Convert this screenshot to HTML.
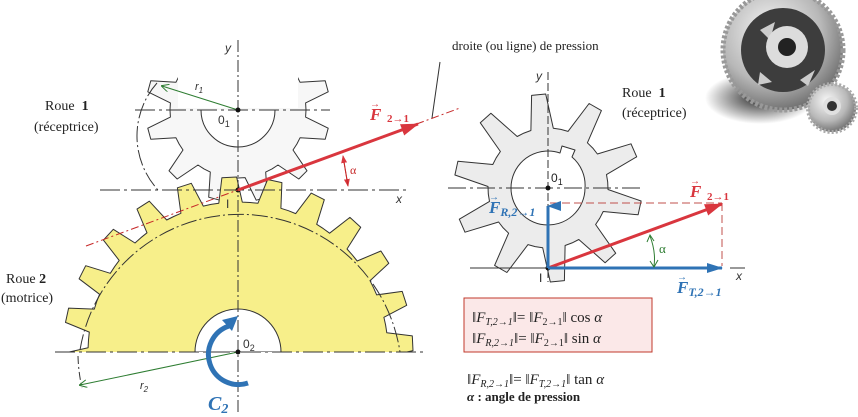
<!DOCTYPE html>
<html><head><meta charset="utf-8"><style>
html,body{margin:0;padding:0;background:#fff;width:858px;height:417px;overflow:hidden}
svg{display:block;overflow:hidden}
.s{font-family:"Liberation Serif",serif}
.a{font-family:"Liberation Sans",sans-serif}
</style></head><body>
<svg id="g" width="858" height="417" viewBox="0 0 858 417" xmlns="http://www.w3.org/2000/svg">
<defs>
<marker id="ar" markerWidth="8" markerHeight="6" refX="7" refY="3" orient="auto" markerUnits="userSpaceOnUse"><path d="M0,0 L8,3 L0,6z" fill="#d9363e"/></marker>
<marker id="ab" markerWidth="16" markerHeight="10" refX="15" refY="5" orient="auto" markerUnits="userSpaceOnUse"><path d="M0,0 L16,5 L0,10z" fill="#2f73b5"/></marker>
<marker id="abu" markerWidth="10" markerHeight="14" refX="5" refY="1" orient="auto" markerUnits="userSpaceOnUse"><path d="M0,14 L5,0 L10,14z" fill="#2f73b5"/></marker>
<marker id="arr" markerWidth="18" markerHeight="12" refX="17" refY="6" orient="auto" markerUnits="userSpaceOnUse"><path d="M0,0 L18,6 L0,12z" fill="#d9363e"/></marker>
<marker id="ag" markerWidth="8" markerHeight="8" refX="7" refY="4" orient="auto" markerUnits="userSpaceOnUse"><path d="M0,0 L8,4 L0,8" fill="none" stroke="#2e7d32"/></marker>
<clipPath id="c1"><rect x="0" y="108" width="440" height="300"/><rect x="0" y="68" width="178" height="45"/><rect x="298" y="68" width="140" height="45"/></clipPath>
<clipPath id="c2"><rect x="0" y="0" width="440" height="352"/></clipPath>
<radialGradient id="mg" cx="0.4" cy="0.35" r="0.7"><stop offset="0" stop-color="#f8f8f8"/><stop offset="0.6" stop-color="#b8b8b8"/><stop offset="1" stop-color="#666"/></radialGradient>
<radialGradient id="sh" cx="0.5" cy="0.5" r="0.5"><stop offset="0" stop-color="#000" stop-opacity="0.85"/><stop offset="1" stop-color="#000" stop-opacity="0"/></radialGradient>
</defs>

<!-- top-right 3D gears -->
<ellipse cx="760" cy="98" rx="55" ry="26" fill="url(#sh)"/>
<circle cx="783" cy="50" r="60" fill="url(#mg)" stroke="#999" stroke-width="5" stroke-dasharray="3 2"/>
<circle cx="783" cy="50" r="42" fill="#3d3d3d"/>
<path d="M760 30 L775 22 L770 40z M800 80 L815 70 L808 86z M760 72 L772 82 L758 85z" fill="#ccc"/>
<circle cx="787" cy="47" r="21" fill="#dcdcdc"/>
<circle cx="787" cy="47" r="9" fill="#222"/>
<circle cx="832" cy="108" r="24" fill="url(#mg)" stroke="#aaa" stroke-width="4" stroke-dasharray="2 2"/>
<circle cx="832" cy="106" r="9" fill="#e0e0e0"/>
<circle cx="832" cy="106" r="5" fill="#333"/>

<g id="gears"></g>

<!-- left axes -->
<g stroke="#333" stroke-width="1" fill="none">
<line x1="238" y1="40" x2="238" y2="412" stroke-dasharray="12 3 2 3"/>
<line x1="135" y1="110" x2="330" y2="110" stroke-dasharray="20 4 3 4"/>
<line x1="100" y1="190" x2="410" y2="190" stroke-dasharray="20 4 3 4"/>
<line x1="55" y1="352" x2="425" y2="352" stroke-dasharray="20 4 3 4"/>
<path d="M157 83 A80 80 0 0 0 158 190" stroke-dasharray="16 3 2 3"/>
<path d="M80 350 A162 162 0 0 1 400 352" stroke-dasharray="16 3 2 3" clip-path="url(#c2)"/>
<path d="M78 356 A162 162 0 0 0 82 388" stroke-dasharray="8 3 2 3"/>
</g>
<line x1="238" y1="110" x2="162" y2="86" stroke="#2e7d32" marker-end="url(#ag)"/>
<line x1="238" y1="352" x2="80" y2="385" stroke="#2e7d32" marker-end="url(#ag)"/>
<circle cx="238" cy="110" r="2.5" fill="#111"/>
<circle cx="238" cy="190" r="2.5" fill="#111"/>
<circle cx="238" cy="352" r="2.5" fill="#111"/>
<text x="225" y="52" class="a" font-size="12" font-style="italic" fill="#333">y</text>
<text x="195" y="90" class="a" font-size="11" font-style="italic" fill="#333">r<tspan font-size="8" dy="3">1</tspan></text>
<text x="218" y="124" class="a" font-size="12" fill="#333">0<tspan font-size="9" dy="3">1</tspan></text>
<text x="396" y="203" class="a" font-size="12" font-style="italic" fill="#333">x</text>
<text x="226" y="208" class="a" font-size="12" fill="#333">I</text>
<text x="243" y="348" class="a" font-size="12" fill="#333">0<tspan font-size="9" dy="3">2</tspan></text>
<text x="140" y="389" class="a" font-size="11" font-style="italic" fill="#333">r<tspan font-size="8" dy="3">2</tspan></text>
<!-- pressure line -->
<line x1="86" y1="246" x2="460" y2="108" stroke="#c62828" stroke-width="1" stroke-dasharray="8 3 2 3"/>
<line x1="440" y1="62" x2="432" y2="118" stroke="#333"/>
<line x1="238" y1="190" x2="418" y2="124" stroke="#d9363e" stroke-width="3" marker-end="url(#arr)"/>
<path d="M343 156 L348 186" stroke="#c62828" stroke-width="1" marker-end="url(#ar)"/>
<path d="M348 186 L343 156" stroke="#c62828" stroke-width="1" marker-end="url(#ar)"/>
<text x="350" y="174" class="s" font-size="12" fill="#c62828">α</text>
<text x="370" y="120" class="s" font-size="17" font-weight="bold" font-style="italic" fill="#d9363e">F</text>
<text x="370" y="107" class="a" font-size="10" fill="#d9363e">→</text>
<text x="387" y="122" class="s" font-size="11" font-weight="bold" fill="#d9363e">2→1</text>
<text x="452" y="50" class="s" font-size="13" fill="#222">droite (ou ligne) de pression</text>
<text x="45" y="110" class="s" font-size="14" fill="#222">Roue&#160; <tspan font-weight="bold">1</tspan></text>
<text x="34" y="131" class="s" font-size="14" fill="#222">(réceptrice)</text>
<text x="6" y="283" class="s" font-size="14" fill="#222">Roue <tspan font-weight="bold">2</tspan></text>
<text x="1" y="302" class="s" font-size="14" fill="#222">(motrice)</text>
<!-- C2 -->
<path d="M248 383 A24 24 0 1 1 229 326" fill="none" stroke="#2f73b5" stroke-width="5"/>
<path d="M222 320 L238 316 L232 331z" fill="#2f73b5"/>
<text x="208" y="410" class="s" font-size="20" font-weight="bold" font-style="italic" fill="#2f73b5">C<tspan font-size="14" dy="3">2</tspan></text>

<!-- right diagram -->
<g stroke="#333" stroke-width="1" fill="none">
<line x1="548" y1="72" x2="548" y2="282" stroke-dasharray="8 3"/>
<line x1="448" y1="188" x2="642" y2="188" stroke-dasharray="18 4 3 4"/>
<line x1="470" y1="268" x2="548" y2="268"/>
<line x1="730" y1="268" x2="745" y2="268"/>
</g>
<circle cx="548" cy="188" r="2.5" fill="#111"/>
<circle cx="548" cy="268" r="2.5" fill="#111"/>
<text x="536" y="80" class="a" font-size="12" font-style="italic" fill="#333">y</text>
<text x="551" y="182" class="a" font-size="12" fill="#222">0<tspan font-size="9" dy="3">1</tspan></text>
<text x="539" y="282" class="a" font-size="12" fill="#222">I</text>
<text x="736" y="280" class="a" font-size="12" font-style="italic" fill="#333">x</text>
<g stroke="#c0504d" stroke-width="1" stroke-dasharray="8 4" fill="none">
<line x1="550" y1="203" x2="722" y2="203"/>
<line x1="722" y1="203" x2="722" y2="266"/>
</g>
<line x1="548" y1="268" x2="722" y2="204" stroke="#d9363e" stroke-width="3" marker-end="url(#arr)"/>
<line x1="548" y1="268" x2="722" y2="268" stroke="#2f73b5" stroke-width="3" marker-end="url(#ab)"/>
<line x1="548" y1="268" x2="548" y2="206" stroke="#2f73b5" stroke-width="3" marker-end="url(#abu)"/>
<path d="M650 236 Q656 252 654 266" fill="none" stroke="#2e7d32" stroke-width="1"/>
<path d="M647 242 L650 235 L654 241 M650 261 L654 267 L658 260" fill="none" stroke="#2e7d32"/>
<text x="659" y="253" class="s" font-size="13" fill="#2e7d32">α</text>
<text x="622" y="97" class="s" font-size="14" fill="#222">Roue&#160; <tspan font-weight="bold">1</tspan></text>
<text x="622" y="117" class="s" font-size="14" fill="#222">(réceptrice)</text>
<text x="690" y="197" class="s" font-size="17" font-weight="bold" font-style="italic" fill="#d9363e">F</text>
<text x="690" y="184" class="a" font-size="10" fill="#d9363e">→</text>
<text x="707" y="200" class="s" font-size="11" font-weight="bold" fill="#d9363e">2→1</text>
<text x="489" y="213" class="s" font-size="17" font-weight="bold" font-style="italic" fill="#2f73b5">F<tspan font-size="12" dy="3">R,2→1</tspan></text>
<text x="489" y="200" class="a" font-size="10" fill="#2f73b5">→</text>
<text x="677" y="293" class="s" font-size="17" font-weight="bold" font-style="italic" fill="#2f73b5">F<tspan font-size="12" dy="3">T,2→1</tspan></text>
<text x="677" y="280" class="a" font-size="10" fill="#2f73b5">→</text>
<rect x="464" y="298" width="188" height="54" fill="#fbe8e8" stroke="#c0392b" stroke-width="1"/>
<g class="s" font-size="15" fill="#222">
<text x="472" y="322">‖<tspan font-style="italic">F</tspan><tspan font-size="10" font-style="italic" dy="3">T,2→1</tspan><tspan dy="-3">‖= ‖</tspan><tspan font-style="italic">F</tspan><tspan font-size="10" dy="3">2→1</tspan><tspan dy="-3">‖ cos</tspan><tspan font-style="italic"> α</tspan></text>
<text x="472" y="343">‖<tspan font-style="italic">F</tspan><tspan font-size="10" font-style="italic" dy="3">R,2→1</tspan><tspan dy="-3">‖= ‖</tspan><tspan font-style="italic">F</tspan><tspan font-size="10" dy="3">2→1</tspan><tspan dy="-3">‖ sin</tspan><tspan font-style="italic"> α</tspan></text>
<text x="467" y="384">‖<tspan font-style="italic">F</tspan><tspan font-size="10" font-style="italic" dy="3">R,2→1</tspan><tspan dy="-3">‖= ‖</tspan><tspan font-style="italic">F</tspan><tspan font-size="10" font-style="italic" dy="3">T,2→1</tspan><tspan dy="-3">‖ tan</tspan><tspan font-style="italic"> α</tspan></text>
<text x="467" y="401" font-size="13" font-weight="bold"><tspan font-style="italic">α</tspan> : angle de pression</text>
</g>
</svg>
<script>
function gear(cx,cy,n,ro,rr,off,up,f){
  f=f||[0.28,0.17];
  var p=2*Math.PI/n,d="";
  function pt(r,a){var x=cx+r*Math.sin(a),y=up?cy-r*Math.cos(a):cy+r*Math.cos(a);return x.toFixed(1)+","+y.toFixed(1);}
  for(var i=0;i<n;i++){
    var c=off+i*p;
    var s=[[rr,c-p/2],[rr,c-p*f[0]],[ro,c-p*f[1]],[ro,c+p*f[1]],[rr,c+p*f[0]]];
    s.forEach(function(q,j){d+=(i==0&&j==0?"M":"L")+pt(q[0],q[1]);});
  }
  return d+"Z";
}
var g=document.getElementById("gears"),ns="http://www.w3.org/2000/svg";
function add(d,fill,stroke,clip){var e=document.createElementNS(ns,"path");e.setAttribute("d",d);e.setAttribute("fill",fill);e.setAttribute("stroke",stroke);e.setAttribute("stroke-width","1");e.setAttribute("fill-rule","evenodd");e.setAttribute("stroke-linejoin","round");if(clip)e.setAttribute("clip-path",clip);g.appendChild(e);}
var d1=gear(238,110,12,92,68,Math.PI/12,false,[0.3,0.12])+" M201,110 A37,37 0 0 0 275,110";
add(d1,"#f7f7f7","#333","url(#c1)");
var d2=gear(238,352,24,175,150,-0.05,true,[0.3,0.16])+" M195,352 A43,43 0 0 1 281,352 Z";
add(d2,"#f7ef8a","#333","url(#c2)");
var d3=gear(548,188,10,94,60,0.1,false,[0.3,0.12])+" M585,188 A37,37 0 1 1 560,153 L562,146 L575,150 L572,157 A37,37 0 0 1 585,188 Z";
add(d3,"#ececec","#333",null);
</script>
</body></html>
